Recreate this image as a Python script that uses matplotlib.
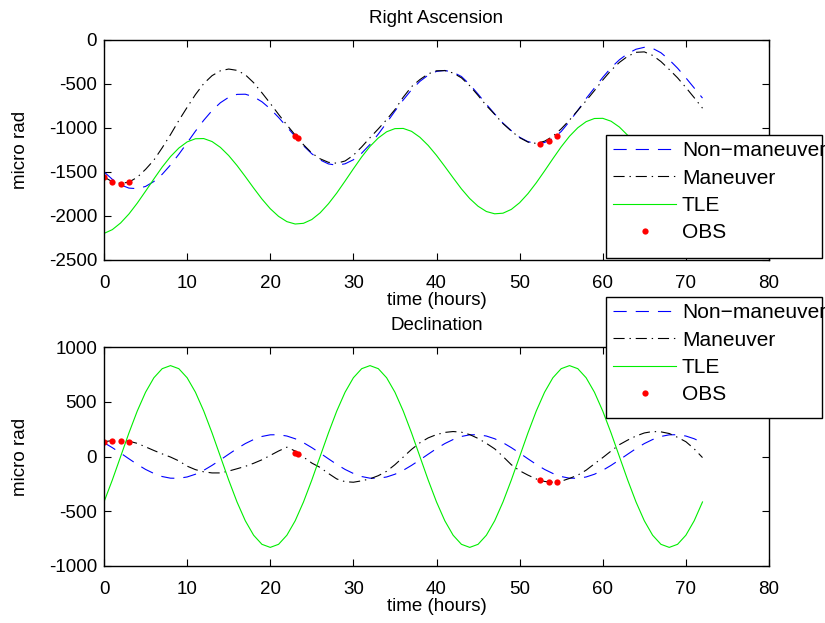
import matplotlib
matplotlib.use("Agg")
import matplotlib.pyplot as plt
from matplotlib.patches import Rectangle

hours = list(range(73))

# Right ascension (micro rad)
ra_nonman = [-1498, -1583, -1646, -1683, -1689, -1664, -1608, -1526, -1420, -1299,
             -1169, -1036, -912, -802, -713, -651, -618, -616, -645, -702,
             -782, -880, -987, -1097, -1202, -1293, -1363, -1408, -1423, -1407,
             -1361, -1286, -1187, -1069, -941, -808, -681, -565, -470, -399,
             -357, -346, -366, -415, -505, -615, -730, -840, -945, -1030,
             -1105, -1155, -1178, -1165, -1120, -1040, -925, -800, -665, -545,
             -425, -315, -225, -155, -105, -83, -95, -145, -225, -320,
             -430, -545, -660]
ra_man = [-1557, -1610, -1630, -1615, -1560, -1470, -1365, -1225, -1075, -915,
          -765, -620, -495, -405, -350, -330, -345, -395, -485, -600,
          -720, -845, -965, -1080, -1190, -1285, -1350, -1390, -1400, -1375,
          -1310, -1215, -1110, -1010, -905, -790, -650, -530, -450, -385,
          -350, -348, -375, -430, -520, -630, -745, -845, -950, -1035,
          -1110, -1160, -1175, -1150, -1095, -1010, -910, -800, -690, -575,
          -455, -345, -255, -185, -140, -135, -175, -245, -335, -430,
          -540, -655, -775]
ra_tle = [-2198, -2155, -2079, -1977, -1854, -1718, -1579, -1444, -1325, -1228,
          -1158, -1122, -1120, -1154, -1220, -1313, -1426, -1552, -1682, -1807,
          -1917, -2004, -2064, -2091, -2083, -2040, -1964, -1861, -1739, -1603,
          -1464, -1329, -1209, -1113, -1043, -1007, -1005, -1038, -1105, -1198,
          -1311, -1437, -1566, -1692, -1802, -1889, -1949, -1975, -1968, -1925,
          -1849, -1746, -1623, -1488, -1349, -1214, -1094, -997, -928, -892,
          -890, -923, -989, -1083, -1196, -1322, -1451, -1576, -1687, -1774,
          -1834, -1860, -1852]

# Declination (micro rad)
dec_nonman = [126, 81, 31, -21, -72, -118, -155, -183, -198, -199,
              -187, -162, -126, -81, -31, 21, 72, 118, 155, 183,
              198, 199, 187, 162, 126, 81, 31, -21, -72, -118,
              -155, -183, -198, -199, -187, -162, -126, -81, -31, 21,
              72, 118, 155, 183, 198, 199, 187, 162, 126, 81,
              31, -21, -72, -118, -155, -183, -198, -199, -187, -162,
              -126, -81, -31, 21, 72, 118, 155, 183, 198, 199,
              187, 162, 126]
dec_man = [135, 145, 148, 140, 120, 88, 55, 24, -5, -40,
           -88, -120, -140, -150, -150, -133, -112, -90, -62, -30,
           10, 50, 85, 50, -5, -60, -100, -155, -205, -230,
           -235, -222, -204, -175, -135, -75, -5, 65, 125, 170,
           200, 220, 228, 222, 200, 165, 120, 70, 0, -75,
           -130, -170, -205, -228, -235, -226, -200, -170, -125, -67,
           -10, 50, 108, 150, 187, 215, 228, 225, 210, 175,
           135, 70, -10]
dec_tle = [-415, -215, 0, 215, 415, 587, 719, 802, 830, 802,
           719, 587, 415, 215, 0, -215, -415, -587, -719, -802,
           -830, -802, -719, -587, -415, -215, 0, 215, 415, 587,
           719, 802, 830, 802, 719, 587, 415, 215, 0, -215,
           -415, -587, -719, -802, -830, -802, -719, -587, -415, -215,
           0, 215, 415, 587, 719, 802, 830, 802, 719, 587,
           415, 215, 0, -215, -415, -587, -719, -802, -830, -802,
           -719, -587, -415]

# observations
obs_hours = [0, 1, 2, 3, 23, 23.3, 52.5, 53.5, 54.5]
obs_ra = [-1557, -1617, -1636, -1617, -1095, -1115, -1182, -1148, -1087]
obs_dec = [131, 146, 146, 131, 35, 25, -219, -234, -234]

labels = ["Non\u2212maneuver", "Maneuver", "TLE", "OBS"]

plt.rcParams['font.family'] = ['Liberation Sans', 'DejaVu Sans']
plt.rcParams['axes.unicode_minus'] = False
plt.rcParams['lines.scale_dashes'] = False

W, H = 825, 623
FS = 13.5
fig = plt.figure(figsize=(8.25, 6.23), dpi=100)
ax1 = fig.add_axes([104/W, 1-260/H, 665/W, 220/H])
ax2 = fig.add_axes([104/W, 1-566/H, 665/W, 219/H])


def panel(ax, nonman, man, tle, obs, ylim, yticks, title, box_top, box_bottom):
    l1, = ax.plot(hours, nonman, color="b", lw=0.8, dashes=(9.5, 6.5))
    l2, = ax.plot(hours, man, color="k", lw=0.8, dashes=(8, 3.5, 1, 3.5))
    l3, = ax.plot(hours, tle, color="#00ee00", lw=0.8)
    l4, = ax.plot(obs_hours, obs, "o", color="r", ms=4.5, mec="none", ls="none")
    ax.set_xlim(0, 80)
    ax.set_ylim(*ylim)
    ax.set_xticks(range(0, 81, 10))
    ax.set_yticks(yticks)
    ax.tick_params(direction="in", top=True, right=True, length=5, width=0.8,
                   labelsize=FS)
    ax.tick_params(axis="x", pad=11)
    ax.tick_params(axis="y", pad=5)
    for s in ax.spines.values():
        s.set_linewidth(1.0)
    ax.set_xlabel("time (hours)", fontsize=FS, labelpad=0)
    ax.set_ylabel("micro rad", fontsize=FS, labelpad=14)
    ax.set_title(title, fontsize=FS, pad=12)

    rect = Rectangle((606/W, 1-box_bottom/H), 216/W, (box_bottom-box_top)/H,
                     transform=fig.transFigure, facecolor="white",
                     edgecolor="black", lw=1, zorder=4)
    fig.add_artist(rect)
    leg = fig.legend([l1, l2, l3, l4], labels, loc="upper left",
                     bbox_to_anchor=(607/W, 1-box_top/H), frameon=False,
                     fontsize=15, handlelength=3.0, handletextpad=0.3,
                     labelspacing=0.4, borderpad=0.3, borderaxespad=0)
    leg.set_zorder(5)


panel(ax1, ra_nonman, ra_man, ra_tle, obs_ra, (-2500, 0),
      range(-2500, 1, 500), "Right Ascension", 135, 258)
panel(ax2, dec_nonman, dec_man, dec_tle, obs_dec, (-1000, 1000),
      range(-1000, 1001, 500), "Declination", 297, 418)

fig.savefig("out.png", dpi=100)
